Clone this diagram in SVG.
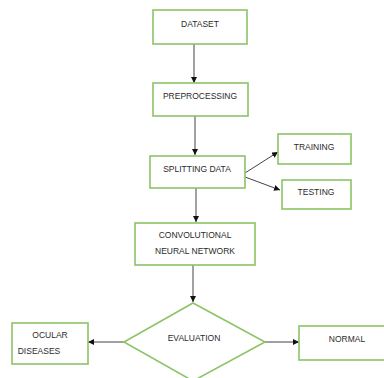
<svg xmlns="http://www.w3.org/2000/svg" width="384" height="378" viewBox="0 0 384 378">
<defs>
<marker id="ah" viewBox="0 0 10 10" refX="10" refY="5" markerWidth="6" markerHeight="6" orient="auto" markerUnits="userSpaceOnUse">
<path d="M0,0 L10,5 L0,10 z" fill="#111"/>
</marker>
<style>
.box{fill:#fff;stroke:#8cc466;stroke-width:1.6}
.t{font-family:"Liberation Sans",Arial,sans-serif;font-size:8.5px;fill:#2a2a2a;text-anchor:middle}
.c{stroke:#444;stroke-width:1;fill:none;marker-end:url(#ah)}
</style>
</defs>
<rect width="384" height="378" fill="#fff"/>
<g id="connectors">
<line class="c" x1="194" y1="44" x2="194" y2="83"/>
<line class="c" x1="195" y1="116" x2="195" y2="155"/>
<line class="c" x1="245" y1="173" x2="278" y2="152"/>
<line class="c" x1="245" y1="177" x2="280" y2="190"/>
<line class="c" x1="196" y1="188" x2="196" y2="222"/>
<line class="c" x1="193" y1="265" x2="193" y2="302"/>
<line class="c" x1="124" y1="342" x2="88" y2="342"/>
<line class="c" x1="265" y1="342" x2="299" y2="342"/>
</g>
<g id="dataset"><rect class="box" x="153" y="10" width="94" height="34"/><text class="t" x="200" y="27">DATASET</text></g>
<g id="preprocessing"><rect class="box" x="153" y="83" width="95" height="33"/><text class="t" x="200" y="99">PREPROCESSING</text></g>
<g id="splitting"><rect class="box" x="150" y="156" width="95" height="32"/><text class="t" x="197" y="172">SPLITTING DATA</text></g>
<g id="training"><rect class="box" x="278" y="134" width="73" height="30"/><text class="t" x="314" y="150">TRAINING</text></g>
<g id="testing"><rect class="box" x="282" y="180" width="69" height="29"/><text class="t" x="316" y="195">TESTING</text></g>
<g id="cnn"><rect class="box" x="135" y="223" width="120" height="42"/><text class="t" x="195" y="238">CONVOLUTIONAL</text><text class="t" x="195" y="254">NEURAL NETWORK</text></g>
<g id="evaluation"><polygon class="box" points="193,303 265,342 193,381 124,342"/><text class="t" x="194" y="341">EVALUATION</text></g>
<g id="ocular"><rect class="box" x="12" y="323" width="76" height="41"/><text class="t" x="50" y="338">OCULAR</text><text class="t" x="39" y="354">DISEASES</text></g>
<g id="normal"><rect class="box" x="299" y="326" width="86" height="34"/><text class="t" x="347" y="342">NORMAL</text></g>
</svg>
